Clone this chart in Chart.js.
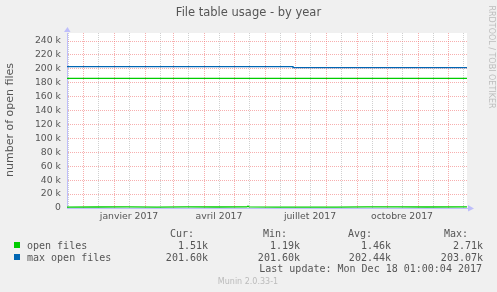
<!DOCTYPE html>
<html>
<head>
<meta charset="utf-8">
<script src="https://cdn.jsdelivr.net/npm/chart.js@4/dist/chart.umd.min.js"></script>
<style>
  html, body { margin: 0; padding: 0; background: #f0f0f0; }
</style>
</head>
<body>
<canvas id="fileTable" width="497" height="292"></canvas>
<script>
// day 0 of the x axis = 15 Nov 2016, the graph spans 400 days
const startDate = Date.UTC(2016, 10, 15);
const spanDays = 400;

// open files (flat near the bottom)
const openDays = [0, 30, 60, 90, 120, 150, 180, 181, 182, 210, 240, 270, 300, 330, 360, 400];
const openFiles = [1400, 1450, 1500, 1350, 1600, 1450, 1500, 2710, 1500, 1300, 1190, 1400, 1500, 1550, 1450, 1510];

// second green line (warning level)
const warnDays = [0, 400];
const warnFiles = [186400, 186400];

// max open files, drops in early July
const maxDays = [0, 226, 226, 400];
const maxOpenFiles = [203070, 203070, 201600, 201600];

const yTickLabels = ['0', '20 k', '40 k', '60 k', '80 k', '100 k', '120 k', '140 k',
                     '160 k', '180 k', '200 k', '220 k', '240 k'];
const xTickLabels = ['janvier 2017', 'avril 2017', 'juillet 2017', 'octobre 2017'];
const xLabelMonths = [[2017, 0], [2017, 3], [2017, 6], [2017, 9]];

const legendRows = [
    { name: 'open files', color: '#00cc00', cur: '1.51k', min: '1.19k', avg: '1.46k', max: '2.71k' },
    { name: 'max open files', color: '#0066b3', cur: '201.60k', min: '201.60k', avg: '202.44k', max: '203.07k' }
];

function dayOf(y, m, d) {
    return (Date.UTC(y, m, d) - startDate) / 86400000;
}

// month starts (red) and mid months (grey)
const xTicks = [];
const xLabelAt = {};
for (let y = 2016, m = 10; y < 2018; m++) {
    if (m > 11) { m = 0; y++; }
    if (y >= 2018) break;
    const first = dayOf(y, m, 1);
    const mid = dayOf(y, m, 16);
    if (first > 0 && first <= spanDays) xTicks.push({ value: first, major: true });
    if (mid >= 0 && mid <= spanDays) xTicks.push({ value: mid, major: false });
}
xLabelMonths.forEach((ym, i) => { xLabelAt[dayOf(ym[0], ym[1], 16)] = xTickLabels[i]; });
xTicks.sort((a, b) => a.value - b.value);

const axisColor = 'rgba(190,190,250,1)';
const majorGrid = 'rgba(240,110,110,0.55)';
const minorGrid = 'rgba(170,170,170,0.55)';

const textPlugin = {
    id: 'muninText',
    afterDraw(chart) {
        const ctx = chart.ctx;
        const a = chart.chartArea;
        ctx.save();

        // axis arrows
        ctx.fillStyle = axisColor;
        ctx.beginPath();
        ctx.moveTo(a.left - 3, a.top - 1);
        ctx.lineTo(a.left + 3.5, a.top - 1);
        ctx.lineTo(a.left + 0.5, a.top - 6);
        ctx.fill();
        ctx.beginPath();
        ctx.moveTo(a.right + 1, a.bottom - 3);
        ctx.lineTo(a.right + 1, a.bottom + 3.5);
        ctx.lineTo(a.right + 7, a.bottom + 0.5);
        ctx.fill();

        // title
        ctx.fillStyle = '#555';
        ctx.font = '11.5px "DejaVu Sans"';
        ctx.textAlign = 'center';
        ctx.textBaseline = 'middle';
        ctx.fillText('File table usage - by year', 248.5, 13.5);

        // y axis title
        ctx.save();
        ctx.translate(10, 120);
        ctx.rotate(-Math.PI / 2);
        ctx.font = '11px "DejaVu Sans"';
        ctx.fillText('number of open files', 0, 0);
        ctx.restore();

        // rrdtool watermark
        ctx.save();
        ctx.translate(491, 57);
        ctx.rotate(Math.PI / 2);
        ctx.fillStyle = '#bdbdbd';
        ctx.font = '8px "DejaVu Sans"';
        ctx.fillText('RRDTOOL / TOBI OETIKER', 0, 0);
        ctx.restore();

        // legend table
        ctx.font = '10px "DejaVu Sans Mono"';
        ctx.fillStyle = '#555';
        ctx.textAlign = 'right';
        ctx.fillText('Cur:', 194, 234);
        ctx.fillText('Min:', 287, 234);
        ctx.fillText('Avg:', 372, 234);
        ctx.fillText('Max:', 468, 234);
        legendRows.forEach((r, i) => {
            const y = 246 + i * 12;
            ctx.fillStyle = r.color;
            ctx.fillRect(14, y - 4, 6, 6);
            ctx.fillStyle = '#555';
            ctx.textAlign = 'left';
            ctx.fillText(r.name, 27, y);
            ctx.textAlign = 'right';
            ctx.fillText(r.cur, 208, y);
            ctx.fillText(r.min, 300, y);
            ctx.fillText(r.avg, 391, y);
            ctx.fillText(r.max, 483, y);
        });
        ctx.fillText('Last update: Mon Dec 18 01:00:04 2017', 482, 269.5);

        ctx.textAlign = 'center';
        ctx.fillStyle = '#bbb';
        ctx.font = '8px "DejaVu Sans"';
        ctx.fillText('Munin 2.0.33-1', 248, 281.5);
        ctx.restore();
    }
};

const bgPlugin = {
    id: 'plotBg',
    beforeDraw(chart) {
        const ctx = chart.ctx;
        const a = chart.chartArea;
        ctx.save();
        ctx.fillStyle = '#f0f0f0';
        ctx.fillRect(0, 0, chart.width, chart.height);
        ctx.fillStyle = '#ffffff';
        ctx.fillRect(a.left, a.top, a.right - a.left, a.bottom - a.top);
        ctx.restore();
    }
};

const toPoints = (xs, ys) => xs.map((x, i) => ({ x: x, y: ys[i] }));

new Chart(document.getElementById('fileTable'), {
    type: 'line',
    data: {
        datasets: [
            {
                label: 'max open files',
                data: toPoints(maxDays, maxOpenFiles),
                borderColor: '#0066b3',
                borderWidth: 1.3,
                pointRadius: 0
            },
            {
                label: 'warning',
                data: toPoints(warnDays, warnFiles),
                borderColor: '#00cc00',
                borderWidth: 1.3,
                pointRadius: 0
            },
            {
                label: 'open files',
                data: toPoints(openDays, openFiles),
                borderColor: '#00cc00',
                borderWidth: 1.3,
                pointRadius: 0
            }
        ]
    },
    options: {
        responsive: false,
        animation: false,
        devicePixelRatio: 1,
        layout: { padding: { left: 0, right: 30, top: 33, bottom: 64 } },
        plugins: {
            legend: { display: false },
            tooltip: { enabled: false }
        },
        scales: {
            x: {
                type: 'linear',
                min: 0,
                max: spanDays,
                afterBuildTicks: (scale) => { scale.ticks = xTicks.map(t => ({ value: t.value, major: t.major })); },
                afterFit: (scale) => { scale.height = 20; },
                grid: {
                    drawTicks: false,
                    color: (c) => c.tick && c.tick.major ? majorGrid : minorGrid,
                    lineWidth: 1
                },
                border: {
                    display: true,
                    color: axisColor,
                    dash: (c) => c.type === 'tick' ? [1, 1] : []
                },
                ticks: {
                    autoSkip: false,
                    maxRotation: 0,
                    padding: 3,
                    color: '#555',
                    font: { family: 'DejaVu Sans', size: 9.3 },
                    callback: (v) => xLabelAt[v] || ''
                }
            },
            y: {
                min: 0,
                max: 251500,
                afterFit: (scale) => { scale.width = 67; },
                afterBuildTicks: (scale) => {
                    const t = [];
                    for (let v = 0; v <= 250000; v += 10000) t.push({ value: v });
                    scale.ticks = t;
                },
                grid: {
                    drawTicks: false,
                    color: (c) => c.tick && c.tick.value % 20000 === 0 ? majorGrid : minorGrid,
                    lineWidth: 1
                },
                border: {
                    display: true,
                    color: axisColor,
                    dash: (c) => c.type === 'tick' ? [1, 1] : []
                },
                ticks: {
                    padding: 6,
                    color: '#555',
                    font: { family: 'DejaVu Sans', size: 9.3 },
                    callback: (v) => v % 20000 === 0 ? yTickLabels[v / 20000] : ''
                }
            }
        }
    },
    plugins: [bgPlugin, textPlugin]
});
</script>
</body>
</html>
